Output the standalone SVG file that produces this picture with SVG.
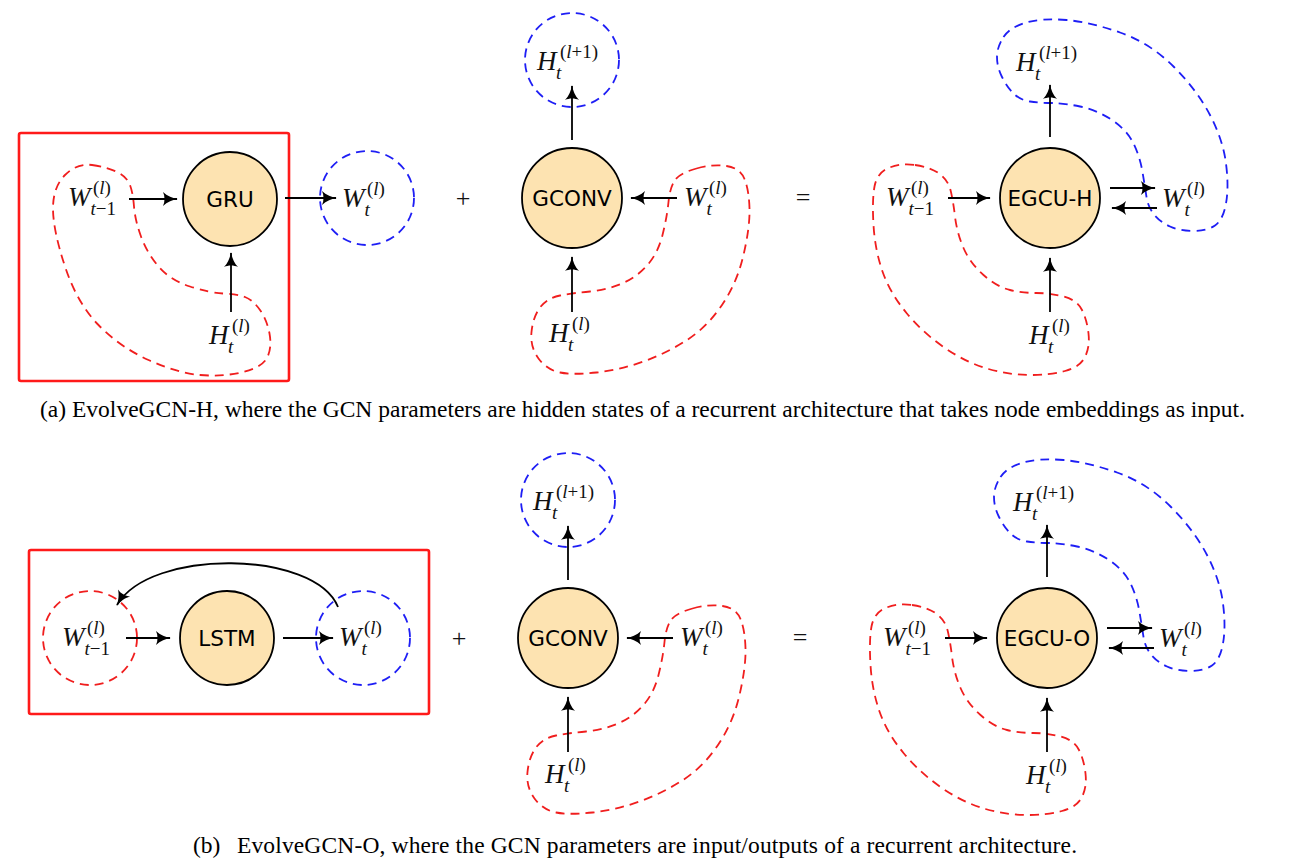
<svg xmlns="http://www.w3.org/2000/svg" xmlns:xlink="http://www.w3.org/1999/xlink" width="1308" height="864" viewBox="0 0 1308 864">
<style>
.node{fill:#fde3b1;stroke:#000;stroke-width:1.8}
.nl{font-family:"DejaVu Sans",sans-serif;font-size:21.5px;text-anchor:middle;fill:#000}
.rd{fill:none;stroke:#f01e1e;stroke-width:1.8;stroke-dasharray:9,6}
.bd{fill:none;stroke:#1e1ef5;stroke-width:1.8;stroke-dasharray:9,6}
.box{fill:none;stroke:#ff1a1a;stroke-width:2.6}
.ar{fill:none;stroke:#000;stroke-width:1.8;marker-end:url(#ah)}
.mv{font-family:"Liberation Serif",serif;font-style:italic;font-size:27px;fill:#111}
.ms{font-size:19px;font-style:normal}
.it{font-style:italic}
.op{font-family:"Liberation Serif",serif;font-size:26px;fill:#111;text-anchor:middle}
.cap{font-family:"Liberation Serif",serif;font-size:23.5px;fill:#000}
</style>
<defs>
<marker id="ah" markerUnits="userSpaceOnUse" markerWidth="16" markerHeight="14" viewBox="0 0 16 14" refX="15" refY="7" orient="auto">
<path d="M16,7 C11,7.8 5,10 1,14 C3,10 3,4 1,0 C5,4 11,6.2 16,7 Z" fill="#000"/>
</marker>
<path id="blobGCONV" d="M696.5,168.5 Q713,164 726.5,166 Q740,168 744.5,179 Q749,190 749.5,208.5 Q750,227 743.5,255 Q737,283 722,305 Q707,327 687,340 Q667,353 643.5,361.5 Q620,370 596.5,372.5 Q573,375 560,372.5 Q547,370 538.5,358.5 Q530,347 531.5,332 Q533,317 540,307.5 Q547,298 560,295.5 Q573,293 590,291.5 Q607,290 622,283.5 Q637,277 647.5,265 Q658,253 662.5,235 Q667,217 668.5,202 Q670,187 675,180 Q680,173 696.5,168.5 Z"/>
<path id="blobER" d="M915,165 Q930,167 939,173.5 Q948,180 950.5,190 Q953,200 955,216.5 Q957,233 963.5,248 Q970,263 983.5,275 Q997,287 1010,290 Q1023,293 1036.5,293 Q1050,293 1063.5,296.5 Q1077,300 1082,310 Q1087,320 1088.5,333.5 Q1090,347 1085,357 Q1080,367 1065,371 Q1050,375 1030,375 Q1010,375 988.5,369 Q967,363 945,348 Q923,333 906.5,313 Q890,293 882.5,271.5 Q875,250 873.5,225 Q872,200 874.5,186.5 Q877,173 888.5,168 Q900,163 915,165 Z"/>
<path id="blobEB" d="M1003.5,37 Q1010,27 1026.5,22.5 Q1043,18 1066.5,20 Q1090,22 1120,32.5 Q1150,43 1173.5,66.5 Q1197,90 1210,115 Q1223,140 1226,163.5 Q1229,187 1226,203.5 Q1223,220 1215,225.5 Q1207,231 1193.5,231 Q1180,231 1170,226.5 Q1160,222 1154,214.5 Q1148,207 1146.5,197 Q1145,187 1142.5,172 Q1140,157 1133.5,143.5 Q1127,130 1112,120 Q1097,110 1080,106.5 Q1063,103 1051.5,103 Q1040,103 1030,101.5 Q1020,100 1013.5,93.5 Q1007,87 1002,77 Q997,67 997,57 Q997,47 1003.5,37 Z"/>
</defs>
<rect width="1308" height="864" fill="#fff"/>

<!-- ===== Panel (a) ===== -->
<g id="a-box"><rect class="box" x="19" y="133" width="270" height="248" rx="2"/></g>
<g id="a-blob-gru"><path class="rd" d="M92,165 Q107,167 117,172 Q127,177 130,185 Q133,193 134,206.5 Q135,220 141,236.5 Q147,253 158.5,266.5 Q170,280 190,286.5 Q210,293 223.5,293.5 Q237,294 245,297 Q253,300 260,310 Q267,320 269.5,333.5 Q272,347 267.5,357 Q263,367 243,372 Q223,377 200,375 Q177,373 148.5,360 Q120,347 98.5,325 Q77,303 65,266.5 Q53,230 53,208.5 Q53,187 65,175 Q77,163 92,165 Z"/></g>
<g id="a-wtm1"><text class="mv" x="68" y="206">W<tspan class="ms" x="93" y="194">(<tspan class="it">l</tspan>)</tspan><tspan class="ms" x="90.5" y="215"><tspan class="it">t</tspan>−1</tspan></text></g>
<g id="a-gru"><circle class="node" cx="230" cy="199" r="47"/><text class="nl" x="230" y="207">GRU</text></g>
<g id="a-ht"><text class="mv" x="209" y="344">H<tspan class="ms" x="232" y="332">(<tspan class="it">l</tspan>)</tspan><tspan class="ms it" x="228" y="353">t</tspan></text></g>
<g id="a-wt"><circle class="bd" cx="367" cy="198" r="47"/>
<text class="mv" x="342" y="207">W<tspan class="ms" x="367" y="195">(<tspan class="it">l</tspan>)</tspan><tspan class="ms it" x="364.5" y="216">t</tspan></text></g>
<g id="a-plus"><text class="op" x="463" y="207">+</text></g>

<g id="a-blob-gconv"><use xlink:href="#blobGCONV" class="rd"/></g>
<g id="a-gconv"><circle class="node" cx="572" cy="198" r="50"/><text class="nl" x="572" y="206">GCONV</text></g>
<g id="a-hl1"><circle class="bd" cx="572" cy="60" r="47"/>
<text class="mv" x="537" y="70">H<tspan class="ms" x="560" y="58">(<tspan class="it">l</tspan>+1)</tspan><tspan class="ms it" x="556" y="79">t</tspan></text></g>
<g id="a-wt2"><text class="mv" x="684" y="206">W<tspan class="ms" x="709" y="194">(<tspan class="it">l</tspan>)</tspan><tspan class="ms it" x="706.5" y="215">t</tspan></text></g>
<g id="a-ht2"><text class="mv" x="549" y="342">H<tspan class="ms" x="572" y="330">(<tspan class="it">l</tspan>)</tspan><tspan class="ms it" x="568" y="351">t</tspan></text></g>
<g id="a-eq"><text class="op" x="803" y="206">=</text></g>

<g id="a-blob-er"><use xlink:href="#blobER" class="rd"/></g>
<g id="a-blob-eb"><use xlink:href="#blobEB" class="bd"/></g>
<g id="a-egcu"><circle class="node" cx="1050" cy="198" r="50"/><text class="nl" x="1050" y="206">EGCU-H</text></g>
<g id="a-wtm1r"><text class="mv" x="886" y="206">W<tspan class="ms" x="911" y="194">(<tspan class="it">l</tspan>)</tspan><tspan class="ms" x="908.5" y="215"><tspan class="it">t</tspan>−1</tspan></text></g>
<g id="a-hl1r"><text class="mv" x="1016" y="71">H<tspan class="ms" x="1039" y="59">(<tspan class="it">l</tspan>+1)</tspan><tspan class="ms it" x="1035" y="80">t</tspan></text></g>
<g id="a-wtr"><text class="mv" x="1162" y="207">W<tspan class="ms" x="1187" y="195">(<tspan class="it">l</tspan>)</tspan><tspan class="ms it" x="1184.5" y="216">t</tspan></text></g>
<g id="a-htr"><text class="mv" x="1029" y="344">H<tspan class="ms" x="1052" y="332">(<tspan class="it">l</tspan>)</tspan><tspan class="ms it" x="1048" y="353">t</tspan></text></g>

<g id="a-caption"><text class="cap" x="40" y="417">(a)</text><text class="cap" x="72" y="417" textLength="1173" lengthAdjust="spacing">EvolveGCN-H, where the GCN parameters are hidden states of a recurrent architecture that takes node embeddings as input.</text></g>

<!-- ===== Panel (b) ===== -->
<g id="b-box"><rect class="box" x="29" y="550" width="400" height="164" rx="2"/></g>
<g id="b-wtm1"><circle class="rd" cx="90" cy="638" r="47"/>
<text class="mv" x="62" y="646">W<tspan class="ms" x="87" y="634">(<tspan class="it">l</tspan>)</tspan><tspan class="ms" x="84.5" y="655"><tspan class="it">t</tspan>−1</tspan></text></g>
<g id="b-lstm"><circle class="node" cx="227" cy="638" r="47"/><text class="nl" x="227" y="646">LSTM</text></g>
<g id="b-wt"><circle class="bd" cx="363" cy="638" r="47"/>
<text class="mv" x="339" y="646">W<tspan class="ms" x="364" y="634">(<tspan class="it">l</tspan>)</tspan><tspan class="ms it" x="361.5" y="655">t</tspan></text></g>
<g id="b-plus"><text class="op" x="459" y="647">+</text></g>

<g id="b-blob-gconv"><use xlink:href="#blobGCONV" class="rd" transform="translate(-4,440)"/></g>
<g id="b-gconv"><circle class="node" cx="568" cy="638" r="50"/><text class="nl" x="568" y="646">GCONV</text></g>
<g id="b-hl1"><circle class="bd" cx="568" cy="500" r="47"/>
<text class="mv" x="533" y="510">H<tspan class="ms" x="556" y="498">(<tspan class="it">l</tspan>+1)</tspan><tspan class="ms it" x="552" y="519">t</tspan></text></g>
<g id="b-wt2"><text class="mv" x="680" y="646">W<tspan class="ms" x="705" y="634">(<tspan class="it">l</tspan>)</tspan><tspan class="ms it" x="702.5" y="655">t</tspan></text></g>
<g id="b-ht2"><text class="mv" x="545" y="783">H<tspan class="ms" x="568" y="771">(<tspan class="it">l</tspan>)</tspan><tspan class="ms it" x="564" y="792">t</tspan></text></g>
<g id="b-eq"><text class="op" x="800" y="646">=</text></g>

<g id="b-blob-er"><use xlink:href="#blobER" class="rd" transform="translate(-3,440)"/></g>
<g id="b-blob-eb"><use xlink:href="#blobEB" class="bd" transform="translate(-3,440)"/></g>
<g id="b-egcu"><circle class="node" cx="1047" cy="638" r="50"/><text class="nl" x="1047" y="646">EGCU-O</text></g>
<g id="b-wtm1r"><text class="mv" x="883" y="646">W<tspan class="ms" x="908" y="634">(<tspan class="it">l</tspan>)</tspan><tspan class="ms" x="905.5" y="655"><tspan class="it">t</tspan>−1</tspan></text></g>
<g id="b-hl1r"><text class="mv" x="1013" y="511">H<tspan class="ms" x="1036" y="499">(<tspan class="it">l</tspan>+1)</tspan><tspan class="ms it" x="1032" y="520">t</tspan></text></g>
<g id="b-wtr"><text class="mv" x="1159" y="647">W<tspan class="ms" x="1184" y="635">(<tspan class="it">l</tspan>)</tspan><tspan class="ms it" x="1181.5" y="656">t</tspan></text></g>
<g id="b-htr"><text class="mv" x="1026" y="784">H<tspan class="ms" x="1049" y="772">(<tspan class="it">l</tspan>)</tspan><tspan class="ms it" x="1045" y="793">t</tspan></text></g>

<g id="b-caption"><text class="cap" x="193" y="853">(b)</text><text class="cap" x="237" y="853" textLength="840" lengthAdjust="spacing">EvolveGCN-O, where the GCN parameters are input/outputs of a recurrent architecture.</text></g>

<!-- ===== Connectors ===== -->
<g id="connectors">
<path class="ar" d="M129,199 H177"/>
<path class="ar" d="M285,198 H336"/>
<path class="ar" d="M231,312 V253"/>
<path class="ar" d="M677,198 H631"/>
<path class="ar" d="M572,140 V86"/>
<path class="ar" d="M572,312 V257"/>
<path class="ar" d="M948,198 H990"/>
<path class="ar" d="M1050,137 V85"/>
<path class="ar" d="M1050,312 V258"/>
<path class="ar" d="M1110,188 H1155"/>
<path class="ar" d="M1157,208 H1112"/>
<path class="ar" d="M126,638 H170"/>
<path class="ar" d="M283,638 H333"/>
<path class="ar" d="M338,607 C315,550 150,548 117,605"/>
<path class="ar" d="M673,638 H627"/>
<path class="ar" d="M568,580 V526"/>
<path class="ar" d="M568,752 V697"/>
<path class="ar" d="M945,638 H987"/>
<path class="ar" d="M1047,577 V525"/>
<path class="ar" d="M1047,752 V698"/>
<path class="ar" d="M1107,628 H1152"/>
<path class="ar" d="M1154,648 H1109"/>
</g>
</svg>
